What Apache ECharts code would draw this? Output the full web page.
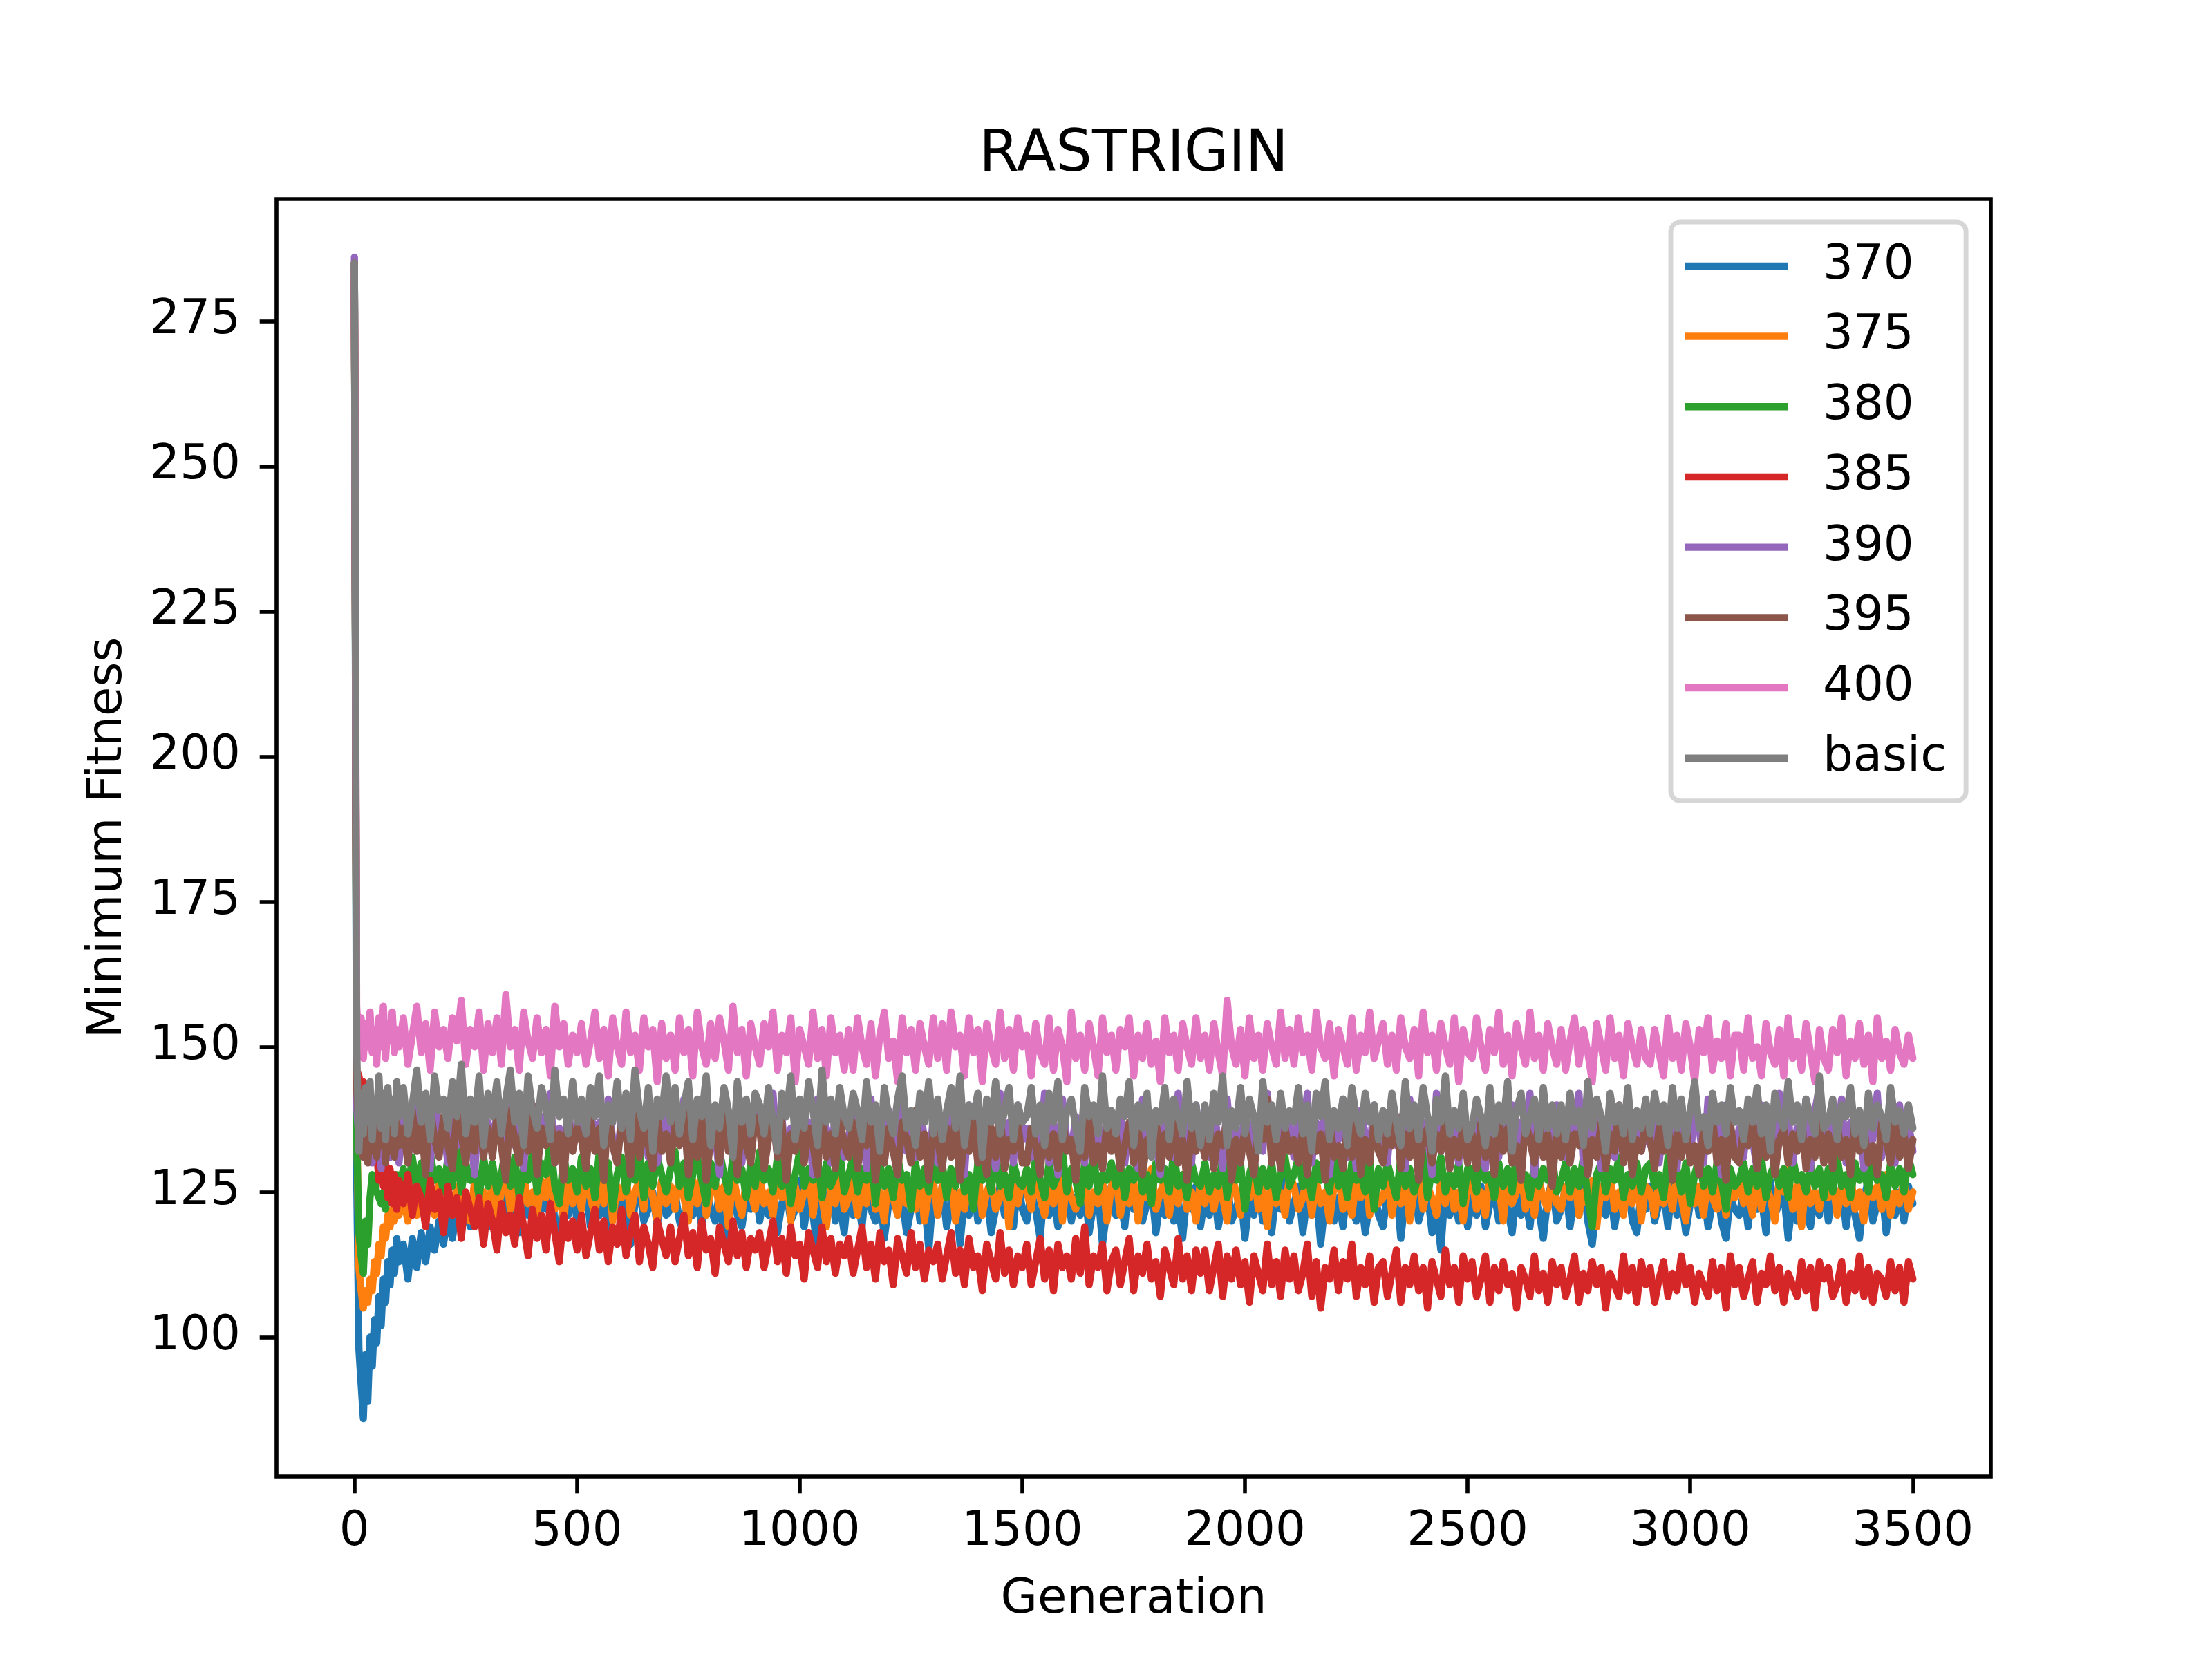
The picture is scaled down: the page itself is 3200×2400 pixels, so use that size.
<!DOCTYPE html>
<html>
<head>
<meta charset="utf-8">
<script src="https://cdn.jsdelivr.net/npm/echarts@6/dist/echarts.min.js"></script>
<style>html,body{margin:0;padding:0;background:#fff}#chart{width:3200px;height:2400px}</style>
</head>
<body>
<div id="chart"></div>
<script>
const chartTitle = 'RASTRIGIN';
const xName = 'Generation';
const yName = 'Minimum Fitness';
const seriesNames = ['370', '375', '380', '385', '390', '395', '400', 'basic'];
const seriesColors = ['#1f77b4', '#ff7f0e', '#2ca02c', '#d62728', '#9467bd', '#8c564b', '#e377c2', '#7f7f7f'];
const xTicks = [0, 500, 1000, 1500, 2000, 2500, 3000, 3500];
const yTicks = [100, 125, 150, 175, 200, 225, 250, 275];

// generation sampled: every 5 up to 100, then every 10 up to 3500
const generations = [0, 5, 10, 15, 20, 25, 30, 35, 40, 45, 50, 55, 60, 65, 70, 75, 80, 85, 90, 95, 100];
for (let g = 110; g <= 3500; g += 10) generations.push(g);

const fit370 = [
284,128,98,92,86,97,89,100,95,103, 99,107,102,110,106,113,109,115,111,117, 113,
116,110,117,112,118,113,119,115,120,116, 121,117,122,118,123,119,122,120,124,119,
125,119,122,127,120,124,118,126,121,123, 119,125,122,128,120,117,124,121,126,120,
123,126,119,124,121,127,118,122,125,120, 124,116,123,126,120,122,125,119,127,121,
122,125,120,118,126,121,124,119,127,122, 120,125,116,123,126,121,119,124,122,127,
120,124,121,126,118,123,125,120,122,127, 119,124,121,115,125,122,126,120,123,118,
126,121,124,119,127,122,120,125,117,123, 126,121,124,118,122,127,120,124,115,125,
121,126,119,123,125,116,124,121,127,120, 123,125,118,122,126,121,124,119,127,122,
120,125,122,117,126,121,124,119,123,127, 120,124,121,126,118,123,125,116,122,126,
121,124,119,127,122,125,120,123,126,118, 124,121,127,120,123,117,125,122,126,119,
124,121,126,119,123,127,120,122,125,117, 124,121,126,120,123,118,125,122,127,120,
123,126,118,124,121,125,116,123,127,120, 124,119,126,122,120,125,118,123,126,121,
119,125,122,126,117,124,121,127,120,123, 125,118,122,115,126,121,124,120,127,119,
124,121,126,119,123,125,120,127,122,118, 125,121,124,119,126,122,117,124,127,120,
122,126,119,124,121,127,120,116,123,125, 121,126,119,124,122,127,120,118,125,122,
126,120,123,125,119,127,121,124,118,123, 126,121,125,119,123,127,120,117,124,122,
121,125,119,126,122,124,118,127,121,123, 125,117,124,120,126,122,119,125,121,127,
120,124,122,126,119,125,121,117,124,127, 120,123,126,118,124,121,125,120,126,123
];
const fit375 = [
284,140,112,108,105,108,106,110,108,113, 111,116,114,119,117,121,119,122,120,123, 121,
124,120,125,121,126,122,124,121,127,122, 125,121,126,123,124,120,127,122,125,121,
127,121,125,129,122,126,120,128,123,125, 121,127,124,130,122,126,120,128,123,126,
122,128,124,121,127,123,129,120,126,124, 128,121,125,127,122,130,124,120,127,123,
126,122,128,124,120,127,123,129,121,125, 127,122,126,119,128,124,121,127,125,122,
128,123,125,121,127,124,129,120,126,122, 125,128,121,127,124,119,126,123,128,122,
124,127,121,126,123,129,122,125,120,128, 124,121,127,123,126,122,128,120,125,127,
121,126,124,128,120,125,122,127,123,129, 121,125,127,122,124,128,119,126,123,127,
125,122,128,124,121,126,123,129,120,127, 124,122,126,128,121,125,123,127,120,126,
128,121,125,123,127,120,126,124,129,122, 125,127,121,126,123,128,122,125,120,127,
123,127,122,126,124,120,128,125,121,127, 124,129,122,126,119,127,123,125,121,128,
126,122,124,128,121,127,123,125,120,126, 128,122,125,121,127,124,129,121,126,123,
124,128,121,126,123,127,120,125,128,122, 126,124,121,127,123,128,122,125,120,126,
127,122,125,121,128,124,126,120,127,123, 125,129,122,126,121,127,124,122,128,123,
122,126,124,128,121,125,123,127,119,126, 124,128,122,125,121,127,123,129,120,126,
125,121,127,123,126,122,128,124,120,127, 123,126,121,128,124,122,127,121,126,124,
127,123,125,121,128,122,126,124,120,127, 125,129,122,126,119,127,123,125,122,128,
124,127,121,126,123,128,122,125,120,127, 124,126,122,128,121,125,123,127,122,125
];
const fit380 = [
285,135,118,114,111,120,116,124,128,127, 125,124,123,125,122,125,124,127,125,128, 126,
129,125,131,126,130,124,132,127,129,125, 131,126,133,125,130,127,129,124,131,126,
130,125,128,133,126,131,124,129,127,132, 125,130,128,134,126,123,131,127,129,125,
131,126,129,124,132,127,130,122,128,131, 125,129,127,133,124,130,126,131,128,125,
129,132,126,130,124,128,131,127,123,130, 126,132,128,125,131,127,129,124,130,126,
132,127,129,125,131,126,130,123,128,132, 126,129,127,131,124,130,126,128,132,125,
128,131,125,129,127,132,123,130,126,129, 124,131,127,128,122,130,126,129,125,131,
127,130,124,129,126,131,125,128,122,130, 127,129,125,132,126,128,124,130,127,126,
129,125,131,127,124,130,126,128,132,125, 129,127,123,130,126,131,125,128,127,130,
126,130,124,129,127,131,125,128,123,130, 127,129,125,132,126,128,124,130,127,126,
130,125,128,126,131,124,129,127,130,122, 128,131,125,129,126,130,124,128,131,126,
128,131,126,129,124,130,127,128,125,132, 126,129,124,130,127,128,125,131,122,129,
126,130,127,124,131,126,129,125,128,132, 124,129,127,131,125,128,126,130,123,129,
129,125,131,127,128,124,130,126,129,125, 132,127,128,124,130,126,129,127,131,125,
127,130,125,129,126,131,124,119,128,130, 125,129,127,131,124,128,126,130,125,129,
130,126,128,124,131,127,129,125,130,123, 128,131,126,129,125,130,127,122,129,126,
127,130,125,129,126,131,124,128,130,126, 129,124,131,127,128,125,130,126,129,124,
129,125,131,126,128,124,130,127,129,125, 131,127,128,124,130,126,129,125,131,128
];
const fit385 = [
282,146,145,143,144,141,142,138,139,134, 132,127,131,126,130,124,129,123,128,122, 127,
123,128,121,126,124,119,127,122,125,118, 126,121,124,117,125,122,119,124,116,123,
120,115,123,118,121,116,124,119,114,122, 117,121,115,123,118,113,121,117,120,115,
121,114,118,122,115,120,113,119,116,122, 114,118,121,113,119,116,112,120,117,114,
119,113,117,121,114,118,112,120,115,117, 111,119,116,113,120,114,118,112,117,115,
118,112,116,120,113,117,111,119,114,116, 110,118,115,112,119,113,117,111,116,114,
117,111,115,119,112,116,110,118,113,115, 109,117,114,111,118,112,116,110,115,113,
116,110,114,118,111,115,109,117,112,114, 108,116,113,110,118,111,115,109,114,112,
116,109,113,117,110,115,108,116,112,114, 110,117,111,119,109,114,112,116,108,113,
115,109,113,117,108,114,111,116,110,113, 107,115,112,109,117,110,114,108,115,111,
115,108,112,116,107,114,110,115,109,113, 106,114,111,108,116,109,113,107,115,110,
114,108,111,116,107,113,105,112,110,115, 108,113,110,116,107,112,109,114,106,112,
113,107,111,115,106,112,109,114,108,112, 105,113,110,107,115,109,112,106,114,110,
113,107,110,114,106,112,108,113,109,111, 105,112,110,107,114,108,111,106,113,109,
112,107,110,114,106,111,108,113,109,112, 105,111,109,107,114,108,112,106,113,109,
112,106,110,113,107,111,108,114,109,112, 106,111,109,107,113,108,112,105,114,109,
112,107,110,113,106,111,109,114,108,112, 106,111,109,107,113,108,112,105,113,110,
112,107,109,113,106,111,108,114,107,112, 106,111,110,107,113,108,112,106,113,110
];
const fit390 = [
286,140,134,137,131,138,133,139,130,136, 132,138,129,137,133,139,131,136,134,140, 130,
138,131,135,140,132,137,129,141,134,136, 130,139,133,142,131,136,128,140,134,137,
132,139,135,130,141,133,137,129,140,135, 131,138,134,142,130,136,128,139,133,137,
135,130,140,133,137,128,141,134,131,138, 136,129,142,133,137,131,139,130,135,140,
131,138,134,141,129,136,133,140,130,137, 135,128,141,134,132,139,130,137,133,140,
137,130,135,142,131,138,129,136,134,140, 132,137,128,141,133,136,130,139,135,131,
134,140,131,137,129,141,133,136,130,139, 135,128,142,132,137,131,140,134,129,138,
130,137,134,141,132,136,128,140,133,138, 131,139,135,129,142,133,137,130,140,134,
136,131,139,133,142,130,137,128,141,134, 132,138,135,130,140,133,137,129,139,135,
133,140,130,137,135,129,141,132,138,134, 128,139,136,131,142,133,137,130,140,134,
137,131,139,134,129,141,133,136,130,140, 135,128,138,132,142,134,131,139,133,137,
131,138,135,142,130,137,133,140,128,136, 134,141,131,137,129,139,135,132,140,133,
136,130,140,133,138,129,141,134,131,137, 135,128,142,132,139,133,136,130,140,134,
132,139,134,129,141,136,131,138,133,140, 130,137,135,142,128,139,133,136,131,140,
137,131,138,134,142,130,136,133,140,129, 135,139,131,137,134,141,128,138,132,136,
133,140,130,137,135,142,129,138,134,131, 139,136,130,141,133,137,128,140,135,132,
136,131,139,134,129,140,133,137,131,142, 134,138,130,136,133,141,129,139,143,135,
132,138,135,141,130,137,133,139,129,136, 134,142,131,138,135,130,140,133,137,132
];
const fit395 = [
285,143,136,133,131,135,130,136,132,138, 131,137,133,139,130,136,132,138,131,137, 133,
136,130,139,132,137,128,140,134,131,138, 133,129,139,135,130,137,132,140,131,136,
131,138,133,127,139,134,130,137,132,140, 128,136,133,139,130,135,127,138,132,136,
134,129,138,132,136,127,139,133,130,137, 135,128,140,131,136,133,129,138,132,135,
130,137,133,139,128,135,131,138,127,134, 136,130,139,132,135,128,137,133,130,138,
136,129,134,138,131,137,127,135,132,139, 130,136,133,128,140,131,135,129,138,133,
131,137,129,135,133,138,127,134,130,136, 132,128,137,134,130,139,131,135,127,136,
134,129,136,131,138,127,135,132,137,130, 133,128,136,131,139,129,134,132,137,130,
130,136,133,128,137,131,135,129,138,132, 134,127,136,131,138,130,133,129,137,132,
135,129,133,137,130,136,128,134,132,138, 129,135,131,137,130,134,127,136,132,135,
131,137,129,135,133,138,127,134,130,136, 132,128,137,134,141,130,135,129,136,132,
134,130,136,128,137,132,135,127,138,131, 133,129,136,131,138,128,134,130,137,132,
130,136,133,138,129,135,131,137,127,134, 136,130,135,132,138,129,134,131,137,130,
135,129,137,131,134,128,138,132,136,130, 133,127,137,134,130,138,131,135,126,136,
131,137,130,135,133,138,128,134,131,137, 129,135,132,140,130,136,128,134,132,137,
134,129,136,132,138,127,135,131,137,130, 133,128,136,132,138,130,134,127,137,131,
130,136,133,138,129,135,131,137,128,134, 136,130,135,132,138,129,134,131,137,130,
135,129,137,131,134,128,138,132,136,130, 133,128,137,134,130,138,131,135,129,134
];
const fit400 = [
284,157,151,155,148,154,150,156,149,153, 147,155,150,157,148,154,151,156,149,153, 150,
155,147,152,157,149,154,146,156,150,153, 148,155,151,158,147,153,150,156,146,154,
149,155,147,159,150,153,146,156,151,148, 155,149,153,145,157,150,154,147,152,149,
154,147,151,156,148,153,145,155,150,147, 156,149,152,146,155,150,153,144,154,148,
152,146,155,149,153,145,156,150,147,154, 148,155,151,146,157,149,153,145,154,150,
147,154,150,156,146,152,149,155,144,153, 150,147,156,148,153,145,155,149,152,146,
153,146,155,150,147,154,145,152,156,148, 151,144,155,149,153,146,154,150,147,155,
148,154,146,156,150,152,145,155,149,153, 144,154,150,147,156,148,153,146,155,150,
152,145,154,149,147,155,146,153,150,144, 156,148,152,146,154,150,145,155,149,152,
146,153,150,155,145,152,148,154,147,151, 144,155,149,152,146,154,150,147,155,148,
152,146,154,149,145,158,150,147,153,145, 155,148,152,146,154,150,147,156,148,153,
147,155,149,152,146,156,150,148,154,145, 153,150,147,155,146,152,149,156,148,151,
154,147,152,146,155,150,148,153,145,156, 149,152,146,154,150,147,155,144,153,149,
148,155,150,146,153,149,156,147,152,145, 154,150,147,156,148,152,146,154,150,147,
153,146,151,155,147,153,149,144,154,150, 146,155,148,152,145,154,150,147,153,148,
147,153,149,145,155,148,152,146,154,150, 144,153,149,155,146,151,148,154,145,152,
152,146,155,148,150,145,154,149,147,153, 145,155,148,151,146,154,149,144,153,148,
146,153,149,155,145,151,148,154,147,152, 144,155,148,151,146,153,149,147,152,148
];
const fitBasic = [
285,150,132,142,135,143,137,144,134,141, 138,145,136,142,134,143,137,141,135,144, 138,
143,135,140,146,137,142,134,145,139,141, 136,144,138,147,135,141,137,145,133,142,
138,144,135,141,146,137,142,133,145,139, 136,143,140,134,146,138,141,135,144,137,
141,135,143,138,145,133,140,137,144,136, 142,134,146,139,136,143,132,141,138,145,
137,143,135,140,144,134,141,138,145,133, 140,136,143,139,131,144,137,141,135,142,
140,135,143,137,132,142,138,145,134,141, 136,144,139,133,146,137,141,135,143,138,
136,142,139,134,144,137,140,132,143,138, 135,141,145,136,139,133,142,137,144,135,
141,134,139,143,136,145,133,140,138,142, 131,141,137,144,135,139,143,134,140,137,
138,143,135,140,133,142,137,144,134,139, 141,136,132,143,138,140,135,145,136,139,
135,141,138,144,133,140,136,142,131,139, 137,143,134,141,138,135,144,136,140,133,
140,134,142,137,145,133,139,136,143,135, 141,138,132,144,137,140,134,142,136,139,
137,143,135,140,132,142,138,144,134,139, 136,141,133,143,138,135,142,137,140,134,
139,135,142,137,133,144,136,140,134,143, 138,132,141,137,145,135,139,136,142,134,
136,141,138,133,143,135,140,137,144,132, 139,142,135,138,141,134,143,136,140,135,
140,134,142,137,139,133,144,136,141,138, 132,142,137,140,135,143,134,139,136,141,
135,142,137,140,133,143,136,141,134,139, 144,136,138,133,142,137,140,135,143,137,
139,134,141,137,143,135,140,132,142,138, 136,144,137,140,134,141,138,135,145,136,
137,141,134,140,138,143,135,139,133,142, 136,140,138,134,143,137,139,135,140,136
];

const fitnessBySeries = [fit370, fit375, fit380, fit385, fit390, fit395, fit400, fitBasic];

const FONT = 'DejaVu Sans';
const chart = echarts.init(document.getElementById('chart'), null, { renderer: 'canvas', width: 3200, height: 2400 });

const plainNumber = (v) => String(v);

const option = {
  animation: false,
  backgroundColor: '#ffffff',
  color: seriesColors,
  title: {
    text: chartTitle,
    left: 1640,
    top: 184,
    padding: 0,
    textAlign: 'center',
    textStyle: { fontFamily: FONT, fontSize: 83, fontWeight: 'normal', color: '#000000' }
  },
  grid: {
    left: 400, right: 320, top: 288, bottom: 264,
    containLabel: false,
    outerBoundsMode: 'none',
    show: true,
    borderColor: '#000000',
    borderWidth: 5.6,
    backgroundColor: 'transparent'
  },
  legend: {
    orient: 'vertical',
    left: 2417,
    top: 321,
    padding: [13, 28, 11, 21],
    itemWidth: 149,
    itemHeight: 10.4,
    itemGap: 0,
    icon: 'rect',
    selectedMode: false,
    backgroundColor: 'rgba(255,255,255,0.8)',
    borderColor: '#d6d6d6',
    borderWidth: 6.9,
    borderRadius: 14,
    itemStyle: { borderWidth: 0 },
    textStyle: { fontFamily: FONT, fontSize: 69, color: '#000000', lineHeight: 101.7, padding: [0, 0, 0, 45] },
    data: seriesNames
  },
  xAxis: {
    type: 'value',
    min: -175,
    max: 3675,
    name: xName,
    nameLocation: 'middle',
    nameGap: 145,
    nameTextStyle: { fontFamily: FONT, fontSize: 69, color: '#000000' },
    axisLine: { show: false, onZero: false },
    axisTick: { show: true, inside: false, length: 24.3, lineStyle: { color: '#000000', width: 5.6 }, customValues: xTicks },
    axisLabel: { show: true, customValues: xTicks, formatter: plainNumber, margin: 47, fontFamily: FONT, fontSize: 69, color: '#000000' },
    splitLine: { show: false }
  },
  yAxis: {
    type: 'value',
    min: 76,
    max: 296,
    name: yName,
    nameLocation: 'middle',
    nameGap: 208,
    nameTextStyle: { fontFamily: FONT, fontSize: 69, color: '#000000' },
    axisLine: { show: false, onZero: false },
    axisTick: { show: true, inside: false, length: 24.3, lineStyle: { color: '#000000', width: 5.6 }, customValues: yTicks },
    axisLabel: { show: true, customValues: yTicks, formatter: plainNumber, margin: 52, fontFamily: FONT, fontSize: 69, color: '#000000' },
    splitLine: { show: false }
  },
  series: seriesNames.map((name, k) => ({
    name: name,
    type: 'line',
    data: generations.map((g, i) => [g, fitnessBySeries[k][i]]),
    showSymbol: false,
    symbol: 'none',
    smooth: false,
    silent: true,
    clip: true,
    emphasis: { disabled: true },
    itemStyle: { color: seriesColors[k] },
    lineStyle: { width: 10.4, color: seriesColors[k], cap: 'round', join: 'round' }
  }))
};
chart.setOption(option);
</script>
</body>
</html>
